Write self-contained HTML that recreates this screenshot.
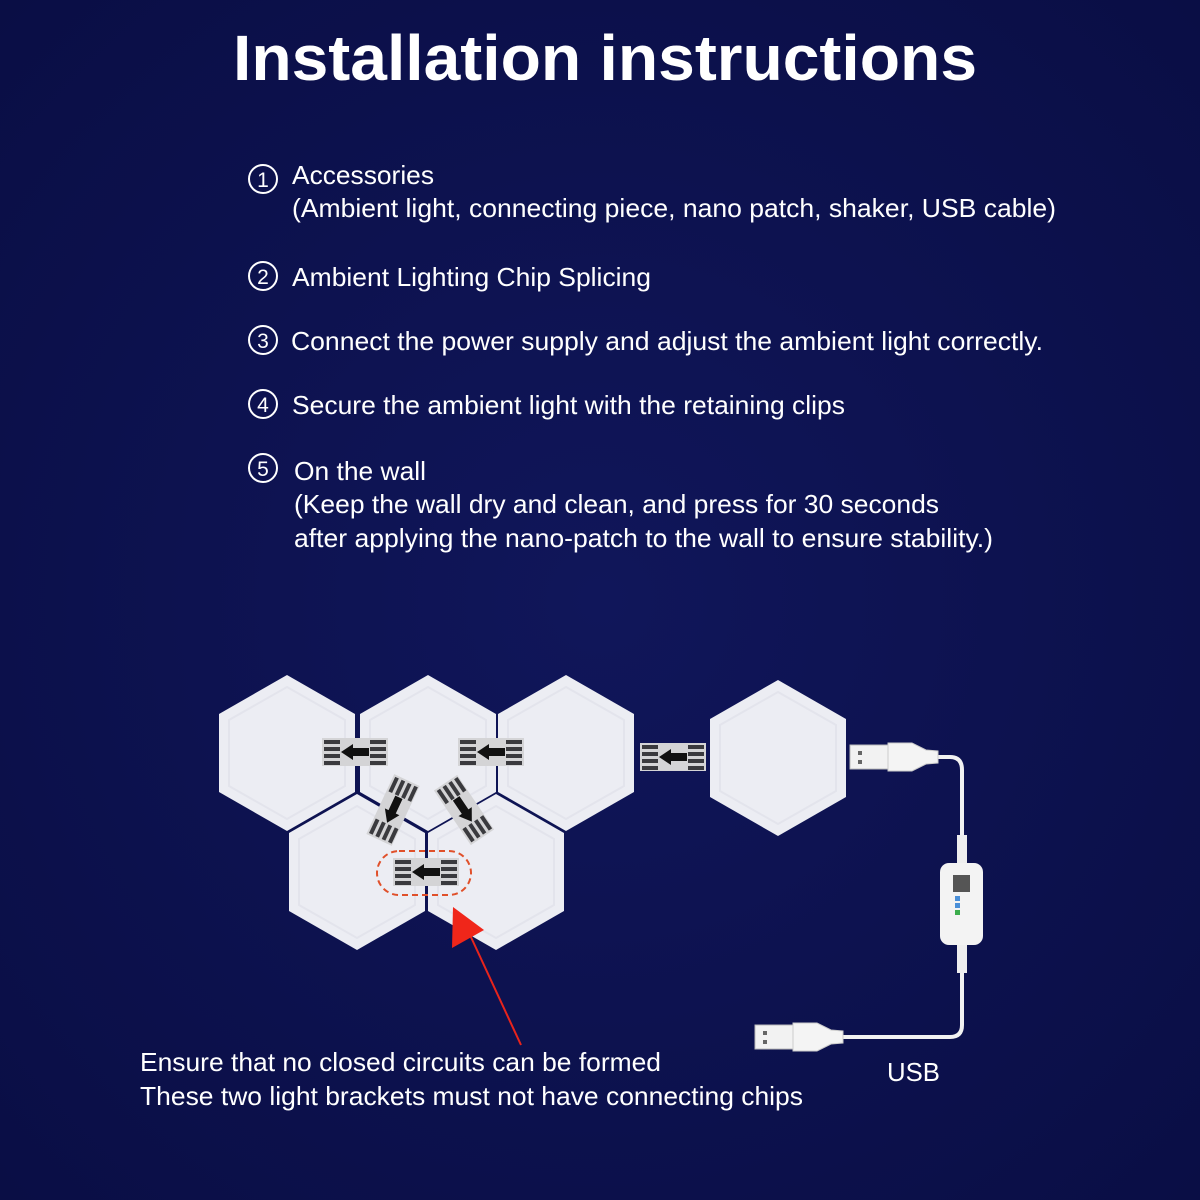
<!DOCTYPE html>
<html><head><meta charset="utf-8"><style>
html,body{margin:0;padding:0;background:#0c1150;}
svg{display:block}
text{font-family:"Liberation Sans",Arial,sans-serif;fill:#fff}
</style></head><body>
<svg width="1200" height="1200" viewBox="0 0 1200 1200" xmlns="http://www.w3.org/2000/svg">
<defs>
<radialGradient id="bg" cx="50%" cy="50%" r="70%"><stop offset="0" stop-color="#10165a"/><stop offset="1" stop-color="#0a0e45"/></radialGradient>
<g id="hex"><polygon points="0,-78 68,-39 68,39 0,78 -68,39 -68,-39" fill="#ecedf3"/><polygon points="0,-66 58,-33 58,33 0,66 -58,33 -58,-33" fill="none" stroke="#e3e4ec" stroke-width="2"/></g>
<g id="chip">
<rect x="-33" y="-14" width="66" height="28" fill="#d4d4d6"/>
<g fill="#3a3a3e"><rect x="-31" y="-12" width="16" height="4"/><rect x="-31" y="-5" width="16" height="4"/><rect x="-31" y="2" width="16" height="4"/><rect x="-31" y="9" width="16" height="4"/>
<rect x="15" y="-12" width="16" height="4"/><rect x="15" y="-5" width="16" height="4"/><rect x="15" y="2" width="16" height="4"/><rect x="15" y="9" width="16" height="4"/></g>
<polygon points="-14,0 -2,-8 -2,-4 14,-4 14,4 -2,4 -2,8" fill="#111"/>
</g>
<g id="plug">
<rect x="0" y="-12" width="38" height="24" fill="#f2f2f2" stroke="#bbb" stroke-width="1"/>
<rect x="8" y="-6" width="4" height="4" fill="#666"/><rect x="8" y="3" width="4" height="4" fill="#666"/>
<polygon points="38,-14 62,-14 76,-7 88,-6 88,6 76,7 62,14 38,14" fill="#f4f4f4" stroke="#ccc" stroke-width="1"/>
</g>
</defs>
<rect width="1200" height="1200" fill="url(#bg)"/>
<text x="233" y="80" font-size="64" font-weight="bold" textLength="744" lengthAdjust="spacingAndGlyphs">Installation instructions</text>
<g font-size="26">
<g fill="none" stroke="#fff" stroke-width="2"><circle cx="263" cy="179" r="14"/><circle cx="263" cy="276" r="14"/><circle cx="263" cy="340" r="14"/><circle cx="263" cy="404" r="14"/><circle cx="263" cy="468" r="14"/></g>
<g font-size="21" text-anchor="middle"><text x="263" y="187">1</text><text x="263" y="284">2</text><text x="263" y="348">3</text><text x="263" y="412">4</text><text x="263" y="476">5</text></g>
<text x="292" y="184" textLength="142" lengthAdjust="spacingAndGlyphs">Accessories</text>
<text x="292" y="217" textLength="764" lengthAdjust="spacingAndGlyphs">(Ambient light, connecting piece, nano patch, shaker, USB cable)</text>
<text x="292" y="286" textLength="359" lengthAdjust="spacingAndGlyphs">Ambient Lighting Chip Splicing</text>
<text x="291" y="350" textLength="752" lengthAdjust="spacingAndGlyphs">Connect the power supply and adjust the ambient light correctly.</text>
<text x="292" y="414" textLength="553" lengthAdjust="spacingAndGlyphs">Secure the ambient light with the retaining clips</text>
<text x="294" y="480" textLength="132" lengthAdjust="spacingAndGlyphs">On the wall</text>
<text x="294" y="513" textLength="645" lengthAdjust="spacingAndGlyphs">(Keep the wall dry and clean, and press for 30 seconds</text>
<text x="294" y="547" textLength="699" lengthAdjust="spacingAndGlyphs">after applying the nano-patch to the wall to ensure stability.)</text>
<text x="140" y="1071" textLength="521" lengthAdjust="spacingAndGlyphs">Ensure that no closed circuits can be formed</text>
<text x="140" y="1105" textLength="663" lengthAdjust="spacingAndGlyphs">These two light brackets must not have connecting chips</text>
<text x="887" y="1081" textLength="53" lengthAdjust="spacingAndGlyphs">USB</text>
</g>
<use href="#hex" x="287" y="753"/>
<use href="#hex" x="428" y="753"/>
<use href="#hex" x="566" y="753"/>
<use href="#hex" x="357" y="872"/>
<use href="#hex" x="496" y="872"/>
<use href="#hex" x="778" y="758"/>
<use href="#chip" transform="translate(355,752)"/>
<use href="#chip" transform="translate(491,752)"/>
<use href="#chip" transform="translate(673,757)"/>
<use href="#chip" transform="translate(393,810) rotate(-65)"/>
<use href="#chip" transform="translate(464,810) rotate(-124)"/>
<use href="#chip" transform="translate(426,872)"/>
<rect x="377" y="851" width="94" height="44" rx="22" fill="none" stroke="#e0502a" stroke-width="2" stroke-dasharray="6,4"/>
<line x1="470" y1="935" x2="521" y2="1045" stroke="#e8241c" stroke-width="2"/>
<polygon points="453,907 452,948 484,930" fill="#f0261a"/>
<path d="M936,757 L950,757 Q962,757 962,770 L962,865 M962,945 L962,1025 Q962,1037 950,1037 L840,1037" fill="none" stroke="#f2f2f2" stroke-width="4"/>
<rect x="957" y="835" width="10" height="30" fill="#eee"/>
<rect x="957" y="943" width="10" height="30" fill="#eee"/>
<rect x="940" y="863" width="43" height="82" rx="9" fill="#f3f3f3"/>
<rect x="953" y="875" width="17" height="17" fill="#555"/>
<rect x="955" y="896" width="5" height="5" fill="#4a8fd8"/><rect x="955" y="903" width="5" height="5" fill="#4a8fd8"/><rect x="955" y="910" width="5" height="5" fill="#3cad4c"/>
<use href="#plug" transform="translate(850,757)"/>
<use href="#plug" transform="translate(755,1037)"/>
</svg>
</body></html>
